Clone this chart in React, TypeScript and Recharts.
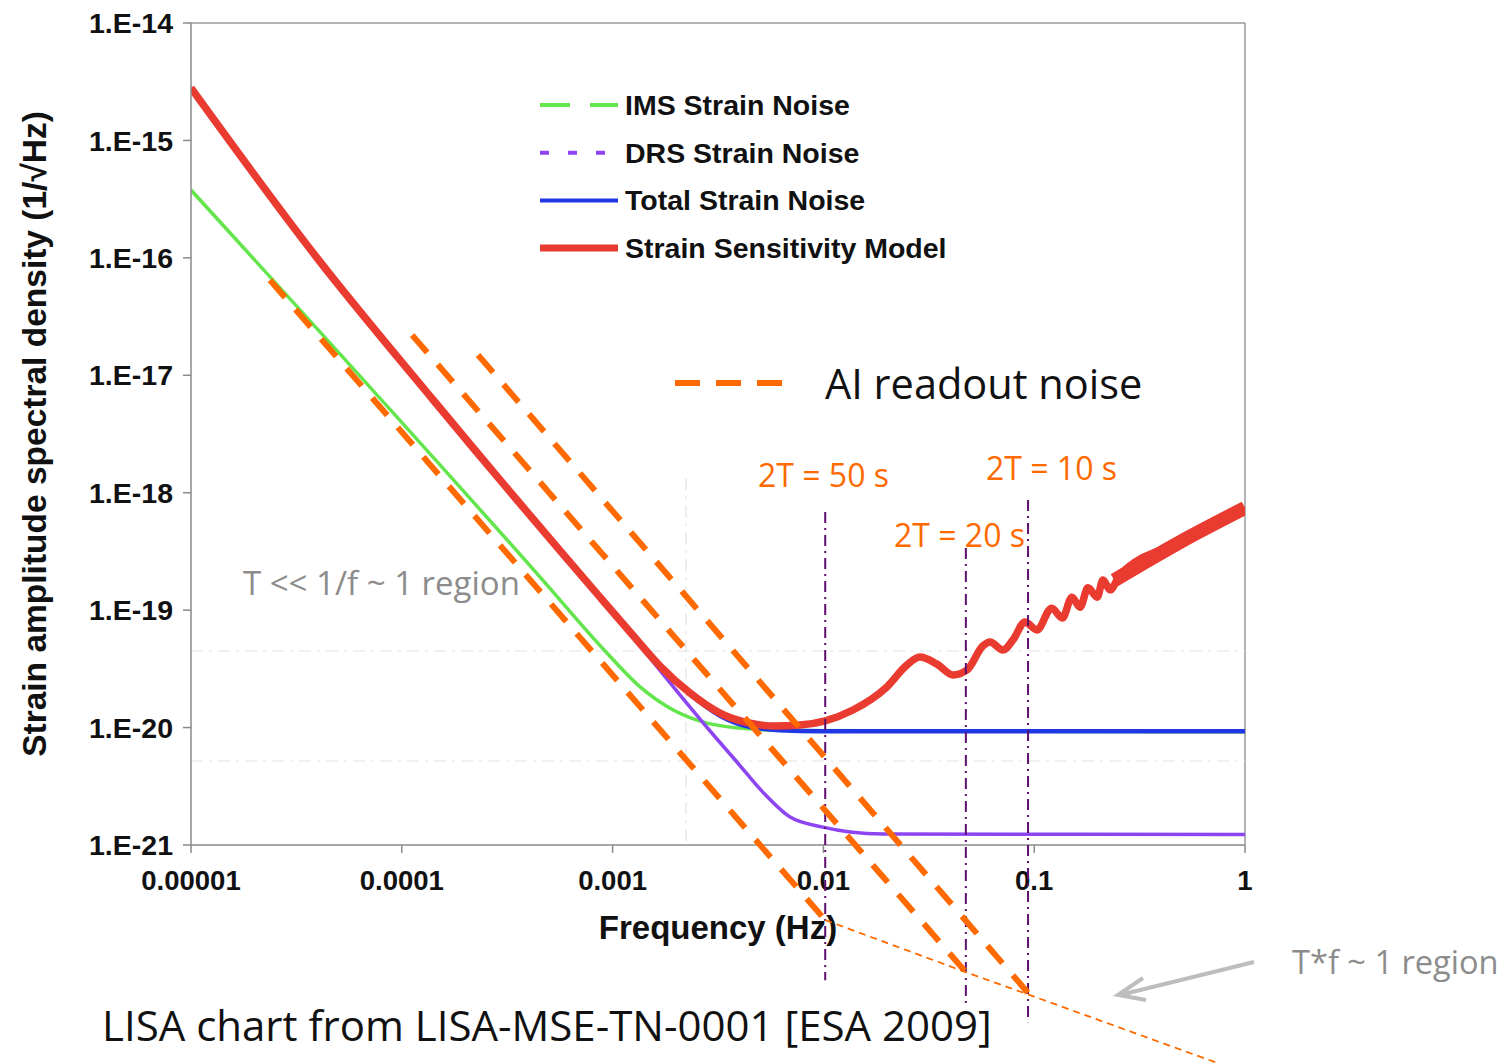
import React from "react";
import {
  ComposedChart,
  Line,
  XAxis,
  YAxis,
  ReferenceLine,
  Legend,
} from "recharts";

type Pair = [number, number];

// axes
const FREQ_TICKS = [1e-5, 1e-4, 1e-3, 1e-2, 1e-1, 1];
const FREQ_LABELS = ["0.00001", "0.0001", "0.001", "0.01", "0.1", "1"];
const PSD_TICKS = [1e-21, 1e-20, 1e-19, 1e-18, 1e-17, 1e-16, 1e-15, 1e-14];
const PSD_LABELS = ["1.E-21", "1.E-20", "1.E-19", "1.E-18", "1.E-17", "1.E-16", "1.E-15", "1.E-14"];

// [frequency Hz, strain ASD 1/sqrt(Hz)]
const IMS: Pair[] = [
  [1e-5, 3.78e-16], [4.53e-4, 1.91e-19], [9.4e-4, 4.31e-20], [1.35e-3, 2.22e-20],
  [1.94e-3, 1.41e-20], [2.81e-3, 1.09e-20], [4.02e-3, 9.9e-21], [6.95e-3, 9.44e-21],
  [1, 9.2e-21],
];

const DRS: Pair[] = [
  [1e-5, 2.8e-15], [3.96e-5, 1.0e-16], [1.41e-4, 6.16e-18], [8.71e-4, 1.29e-19],
  [1.35e-3, 4.96e-20], [2.09e-3, 1.89e-20], [2.9e-3, 9.35e-21], [3.89e-3, 5.09e-21],
  [5.16e-3, 2.82e-21], [6.95e-3, 1.73e-21], [9.95e-3, 1.42e-21], [1.34e-2, 1.29e-21],
  [1.92e-2, 1.24e-21], [1, 1.23e-21],
];

const TOTAL: Pair[] = [
  [1e-5, 2.8e-15], [3.96e-5, 1.0e-16], [1.41e-4, 6.16e-18], [8.71e-4, 1.29e-19],
  [1.21e-3, 6.52e-20], [1.68e-3, 3.34e-20], [2.33e-3, 1.93e-20], [3.23e-3, 1.26e-20],
  [4.49e-3, 1.01e-20], [6.22e-3, 9.5e-21], [9.64e-3, 9.3e-21], [1, 9.3e-21],
];

const MODEL: Pair[] = [
  [1e-5, 2.8e-15], [3.96e-5, 1.0e-16], [1.41e-4, 6.16e-18], [8.71e-4, 1.29e-19],
  [1.21e-3, 6.52e-20], [1.68e-3, 3.34e-20], [2.33e-3, 1.97e-20], [3.23e-3, 1.33e-20],
  [4.49e-3, 1.09e-20], [5.89e-3, 1.03e-20], [7.74e-3, 1.05e-20], [1.02e-2, 1.14e-20],
  [1.38e-2, 1.41e-20], [2.0e-2, 2.22e-20], [2.49e-2, 3.41e-20], [2.87e-2, 3.99e-20],
  [3.46e-2, 3.47e-20], [4.12e-2, 2.81e-20], [4.8e-2, 3.09e-20], [5.71e-2, 4.96e-20],
  [6.17e-2, 5.36e-20], [7.11e-2, 4.58e-20], [7.93e-2, 5.57e-20], [9.04e-2, 7.93e-20],
  [0.103, 6.78e-20], [0.121, 1.04e-19], [0.136, 8.57e-20], [0.151, 1.29e-19],
  [0.165, 1.06e-19], [0.18, 1.55e-19], [0.199, 1.29e-19], [0.212, 1.81e-19],
  [0.229, 1.49e-19], [0.255, 1.99e-19], [0.492, 3.8e-19], [1, 7.41e-19],
];

// dense high-frequency ripple of the model, drawn as one broad band
const MODEL_RIPPLE: Pair[] = [[0.24, 1.8e-19], [0.492, 3.8e-19], [1, 7.41e-19]];

// AI readout noise, 2T = 50 s, 20 s, 10 s
const AI_50: Pair[] = [[2.37e-5, 6.47e-17], [1.02e-2, 2.3e-22]];
const AI_20: Pair[] = [[1.12e-4, 2.2e-17], [4.74e-2, 8.28e-23]];
const AI_10: Pair[] = [[2.3e-4, 1.49e-17], [9.55e-2, 5.28e-23]];
const TF_ONE: Pair[] = [[1.02e-2, 2.3e-22], [4.74e-2, 8.28e-23], [9.55e-2, 5.28e-23], [0.721, 1.42e-23]];

const MARK_50: Pair[] = [[1.02e-2, 6.85e-19], [1.02e-2, 7.08e-23]];
const MARK_20: Pair[] = [[4.74e-2, 3.38e-19], [4.74e-2, 4.52e-23]];
const MARK_10: Pair[] = [[9.35e-2, 8.67e-19], [9.35e-2, 3.11e-23]];

// faint leftover guides in the original plot
const GUIDE_LEVELS = [4.49e-20, 5.19e-21];
const GUIDE_FREQ = 2.23e-3;
const GUIDE_TOP = 1.33e-18;

const GREEN = "#62e64b";
const PURPLE = "#8d45f2";
const BLUE = "#2136e4";
const RED = "#ea3b30";
const ORANGE = "#ff6a00";
const MARK = "#5e0f6e";

const BOLD = "'Liberation Sans', Arial, Helvetica, sans-serif";
const SOFT = "'Open Sans', 'Noto Sans', sans-serif";

const rows = (pts: Pair[]) => pts.map(([f, v]) => ({ f, v }));

const labelFor = (ticks: number[], labels: string[]) => (v: number) => {
  const i = ticks.findIndex((t) => Math.abs(t - v) / t < 1e-6);
  return i >= 0 ? labels[i] : "";
};

const LEGEND = [
  { name: "IMS Strain Noise", color: GREEN, dash: "30 20", w: 4 },
  { name: "DRS Strain Noise", color: PURPLE, dash: "9 19", w: 4 },
  { name: "Total Strain Noise", color: BLUE, dash: undefined, w: 4 },
  { name: "Strain Sensitivity Model", color: RED, dash: undefined, w: 7 },
];

function LegendBox() {
  return (
    <svg width={460} height={196}>
      {LEGEND.map((d, i) => {
        const y = 24 + i * 47.7;
        return (
          <g key={d.name}>
            <line x1={2} x2={80} y1={y} y2={y} stroke={d.color} strokeWidth={d.w} strokeDasharray={d.dash} />
            <text x={87} y={y} dominantBaseline="central" fontFamily={BOLD} fontWeight={700} fontSize={28.5} fill="#111">
              {d.name}
            </text>
          </g>
        );
      })}
    </svg>
  );
}

const NOTES = [
  { text: "2T = 50 s", x: 758, y: 475, color: ORANGE, size: 32 },
  { text: "2T = 10 s", x: 986, y: 468, color: ORANGE, size: 32 },
  { text: "2T = 20 s", x: 894, y: 535, color: ORANGE, size: 32 },
  { text: "AI readout noise", x: 825, y: 384, color: "#111", size: 41.5 },
  { text: "T << 1/f ~ 1 region", x: 243, y: 582, color: "#8c8c8c", size: 33 },
  { text: "T*f ~ 1 region", x: 1292, y: 962, color: "#8c8c8c", size: 32.6 },
  { text: "LISA chart from LISA-MSE-TN-0001 [ESA 2009]", x: 102, y: 1025, color: "#111", size: 42 },
];

export default function App() {
  const xTick = { fill: "#111", fontSize: 27.5, fontWeight: 700, fontFamily: BOLD };
  const yTick = { fill: "#111", fontSize: 28.5, fontWeight: 700, fontFamily: BOLD };
  return (
    <div style={{ position: "fixed", left: 0, top: 0, width: 1507, height: 1064, overflow: "hidden", background: "#fff" }}>
      <div style={{ position: "absolute", left: 0, top: 0 }}>
        <ComposedChart width={1507} height={1064} margin={{ top: 23, right: 262, bottom: 159, left: 91 }}>
          <XAxis
            type="number"
            dataKey="f"
            scale="log"
            domain={[1e-5, 1]}
            ticks={FREQ_TICKS}
            interval={0}
            allowDataOverflow
            tickFormatter={labelFor(FREQ_TICKS, FREQ_LABELS)}
            height={60}
            tickSize={8}
            tickMargin={17}
            stroke="#8a8a8a"
            strokeWidth={1.5}
            tick={xTick}
            label={{
              value: "Frequency (Hz)",
              position: "bottom",
              offset: 11,
              style: { fill: "#111", fontSize: 33, fontWeight: 700, fontFamily: BOLD },
            }}
          />
          <YAxis
            type="number"
            scale="log"
            domain={[1e-21, 1e-14]}
            ticks={PSD_TICKS}
            interval={0}
            allowDataOverflow
            tickFormatter={labelFor(PSD_TICKS, PSD_LABELS)}
            width={100}
            tickSize={8}
            tickMargin={10}
            stroke="#8a8a8a"
            strokeWidth={1.5}
            tick={yTick}
            label={{
              value: "Strain amplitude spectral density (1/\u221AHz)",
              angle: -90,
              position: "insideLeft",
              offset: -57,
              style: { fill: "#111", fontSize: 33.5, fontWeight: 700, fontFamily: BOLD, textAnchor: "middle" },
            }}
          />
          <ReferenceLine y={1e-14} stroke="#9a9a9a" strokeWidth={1.5} />
          <ReferenceLine x={1} stroke="#9a9a9a" strokeWidth={1.5} />
          {GUIDE_LEVELS.map((g) => (
            <ReferenceLine key={g} y={g} stroke="#e2e2e2" strokeWidth={1.2} strokeDasharray="12 6 3 6" />
          ))}
          <ReferenceLine
            segment={[{ x: GUIDE_FREQ, y: GUIDE_TOP }, { x: GUIDE_FREQ, y: 1e-21 }]}
            stroke="#e2e2e2"
            strokeWidth={1.2}
            strokeDasharray="12 6 3 6"
          />
          <Legend
            layout="vertical"
            align="center"
            verticalAlign="middle"
            content={() => <LegendBox />}
            wrapperStyle={{ position: "absolute", left: 538, top: 81, width: 460, height: 196 }}
          />
          <Line data={rows(IMS)} dataKey="v" name="IMS Strain Noise" type="monotone" stroke={GREEN} strokeWidth={3.5} dot={false} activeDot={false} isAnimationActive={false} />
          <Line data={rows(DRS)} dataKey="v" name="DRS Strain Noise" type="monotone" stroke={PURPLE} strokeWidth={3.5} dot={false} activeDot={false} isAnimationActive={false} />
          <Line data={rows(TOTAL)} dataKey="v" name="Total Strain Noise" type="monotone" stroke={BLUE} strokeWidth={4.5} dot={false} activeDot={false} isAnimationActive={false} />
          <Line data={rows(MODEL)} dataKey="v" name="Strain Sensitivity Model" type="monotone" stroke={RED} strokeWidth={7.5} dot={false} activeDot={false} isAnimationActive={false} />
          <Line data={rows(MODEL_RIPPLE)} dataKey="v" legendType="none" type="monotone" stroke={RED} strokeWidth={14} dot={false} activeDot={false} isAnimationActive={false} />
        </ComposedChart>
      </div>

      <div style={{ position: "absolute", left: 0, top: 0, pointerEvents: "none" }}>
        <ComposedChart width={1507} height={1100} margin={{ top: 23, right: 262, bottom: 20, left: 191 }}>
          <XAxis type="number" dataKey="f" scale="log" domain={[1e-5, 1]} hide allowDataOverflow />
          <YAxis type="number" scale="log" domain={[1e-23, 1e-14]} hide allowDataOverflow />
          {[MARK_50, MARK_20, MARK_10].map((m, i) => (
            <Line key={"m" + i} data={rows(m)} dataKey="v" type="linear" stroke={MARK} strokeWidth={2} strokeDasharray="11 5 2 5" dot={false} activeDot={false} isAnimationActive={false} />
          ))}
          {[AI_50, AI_20, AI_10].map((a, i) => (
            <Line key={"a" + i} data={rows(a)} dataKey="v" type="linear" stroke={ORANGE} strokeWidth={6} strokeDasharray="23 16" dot={false} activeDot={false} isAnimationActive={false} />
          ))}
          <Line data={rows(TF_ONE)} dataKey="v" type="linear" stroke={ORANGE} strokeWidth={1.8} strokeDasharray="7 5" dot={false} activeDot={false} isAnimationActive={false} />
        </ComposedChart>
      </div>

      <svg style={{ position: "absolute", left: 0, top: 0 }} width={1507} height={1064}>
        <line x1={675} x2={787} y1={383} y2={383} stroke={ORANGE} strokeWidth={6} strokeDasharray="25 16" />
        <line x1={1254} y1={962} x2={1120} y2={995} stroke="#bdbdbd" strokeWidth={4} />
        <polyline points="1143,978 1118,995 1146,1000" fill="none" stroke="#bdbdbd" strokeWidth={4} />
      </svg>

      {NOTES.map((n) => (
        <div
          key={n.text}
          style={{
            position: "absolute",
            left: n.x,
            top: n.y,
            transform: "translateY(-50%)",
            fontFamily: SOFT,
            fontSize: n.size,
            lineHeight: 1,
            color: n.color,
            whiteSpace: "nowrap",
          }}
        >
          {n.text}
        </div>
      ))}
    </div>
  );
}
